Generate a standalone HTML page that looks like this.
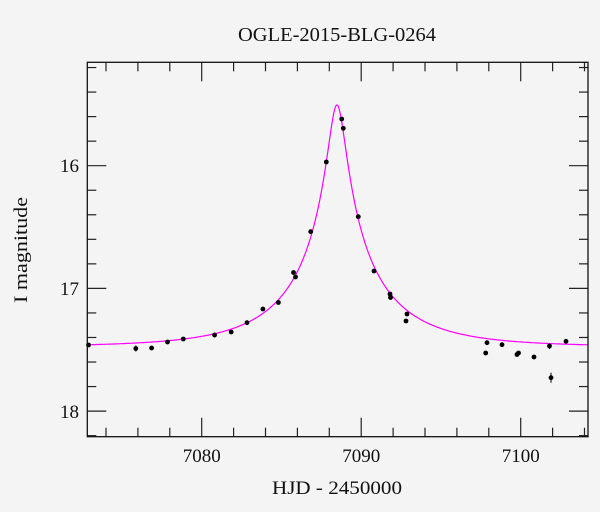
<!DOCTYPE html>
<html><head><meta charset="utf-8"><style>
html,body{margin:0;padding:0;background:#f4f4f4;}
svg{display:block;font-family:"Liberation Serif",serif;}
</style></head><body>
<svg id="s" width="600" height="512" viewBox="0 0 600 512" xmlns="http://www.w3.org/2000/svg">
<rect width="600" height="512" fill="#f4f4f4"/>
<text x="337" y="41" font-size="20" text-anchor="middle" fill="#111" textLength="198" lengthAdjust="spacingAndGlyphs">OGLE-2015-BLG-0264</text>
<text x="337" y="494" font-size="19" text-anchor="middle" fill="#111" textLength="130" lengthAdjust="spacingAndGlyphs">HJD - 2450000</text>
<text transform="translate(27,250) rotate(-90)" font-size="19" text-anchor="middle" fill="#111" textLength="106" lengthAdjust="spacingAndGlyphs">I magnitude</text>
<g font-size="19" fill="#111" text-anchor="middle">
<text x="201.7" y="462">7080</text><text x="361.2" y="462">7090</text><text x="520.7" y="462">7100</text>
</g>
<g font-size="19" fill="#111" text-anchor="end">
<text x="79" y="172">16</text><text x="79" y="295">17</text><text x="79" y="418">18</text>
</g>
<g id="ticks" stroke="#222" stroke-width="1.2"></g>
<path id="curve" fill="none" stroke="#ff00ff" stroke-width="1.2"/>
<g id="pts" fill="#000" stroke="#000" stroke-width="1"></g>
<rect x="87.3" y="62.3" width="500.7" height="374.4" fill="none" stroke="#111" stroke-width="1.3"/>
</svg>
<script>
var X=function(t){return 201.7+(t-7080)*15.95;}, Y=function(m){return 165.7+(m-16)*122.7;};
var L=87.3,R=588,T=62.3,B=436.7,tk=document.getElementById('ticks'),h='';
for(var t=7074;t<=7104;t+=2){var x=X(t),mj=(t%10==0),l=mj?19:9;h+='<line x1="'+x+'" y1="'+B+'" x2="'+x+'" y2="'+(B-l)+'"/><line x1="'+x+'" y1="'+T+'" x2="'+x+'" y2="'+(T+l)+'"/>';}
for(var i=0;i<=15;i++){var m=15.2+i*0.2,y=Y(m);if(y<T||y>B)continue;var mj=Math.abs(m-Math.round(m))<1e-6,l=mj?19:9;h+='<line x1="'+L+'" y1="'+y+'" x2="'+(L+l)+'" y2="'+y+'"/><line x1="'+R+'" y1="'+y+'" x2="'+(R-l)+'" y2="'+y+'"/>';}
tk.innerHTML=h;
var t0=7088.48,tE=6.3,u0=0.083,base=17.475,peak=15.505;
function A(u){return (u*u+2)/(u*Math.sqrt(u*u+4));}
var fs=(Math.pow(10,0.4*(base-peak))-1)/(A(u0)-1);
var d='';
for(var px=L;px<=R;px+=0.5){var t=7080+(px-201.7)/15.95,tau=(t-t0)/tE,u=Math.sqrt(u0*u0+tau*tau);var m=base-2.5*Math.log10(1+fs*(A(u)-1));d+=(d?'L':'M')+px.toFixed(1)+' '+Y(m).toFixed(1);}
document.getElementById('curve').setAttribute('d',d);
var P=[[88.5,345,2],[135.8,348.5,3],[151.6,348,2],[167.5,342,2],[183.3,339,2],[214.6,335,2.5],[231.2,332,2],[247,322.7,2],[262.9,309,2],[278.4,302.5,2],[293.5,272.5,2],[295.5,277,2],[310.7,231.7,2],[326.3,162,2],[341.7,119,2],[343.3,128.3,2],[358.3,216.7,2],[374,271,2],[390,294,2],[390.5,297.5,2],[407,314,2],[406,321,2],[487,342.7,2],[485.7,353,2],[502,344.7,2],[517,354.5,2],[518.5,353,2],[534,357,2],[549.5,346,3],[551,377.7,5],[566,341.3,2]];
var g='';P.forEach(function(p){g+='<line x1="'+p[0]+'" y1="'+(p[1]-p[2])+'" x2="'+p[0]+'" y2="'+(p[1]+p[2])+'"/><circle cx="'+p[0]+'" cy="'+p[1]+'" r="2.4" stroke="none"/>';});
document.getElementById('pts').innerHTML=g;
</script>
</body></html>
